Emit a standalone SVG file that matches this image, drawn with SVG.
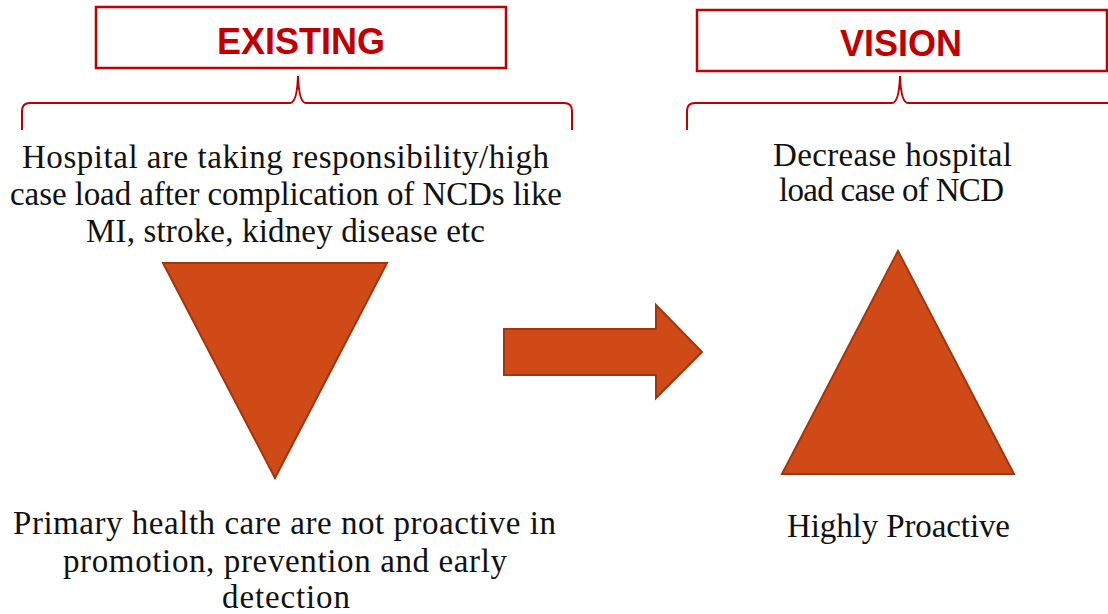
<svg xmlns="http://www.w3.org/2000/svg" width="1108" height="614" viewBox="0 0 1108 614">
<style>
.hdr{fill:#fff;stroke:#C00000;stroke-width:2.5}
.hdrt{font-family:"Liberation Sans",Arial,sans-serif;font-weight:bold;font-size:36px;fill:#C00000;text-anchor:middle}
.brace{fill:none;stroke:#C00000;stroke-width:2}
.shape{fill:#D04A18;stroke:#A1360E;stroke-width:2;stroke-linejoin:miter}
.t{font-family:"Liberation Serif","Times New Roman",serif;font-size:33px;fill:#111;text-anchor:middle}
</style>
<rect width="1108" height="614" fill="#fff"/>
<g id="existing-header">
<rect class="hdr" x="96" y="7" width="410" height="61"/>
<text class="hdrt" x="301" y="54">EXISTING</text>
</g>
<g id="vision-header">
<rect class="hdr" x="697" y="10" width="410" height="61"/>
<text class="hdrt" x="901" y="56">VISION</text>
</g>
<g id="braces">
<path class="brace" d="M22,130 L22,111 Q22,103 30,103 L290,103 Q297,103 298,76 Q299,103 306,103 L564,103 Q572,103 572,111 L572,130"/>
<path class="brace" d="M687,130 L687,111 Q687,103 695,103 L892,103 Q899,103 900,76 Q901,103 908,103 L1110,103"/>
</g>
<g id="existing-top-text">
<text class="t" x="285.5" y="168" textLength="527" lengthAdjust="spacing">Hospital are taking responsibility/high</text>
<text class="t" x="286" y="205" textLength="552" lengthAdjust="spacing">case load after complication of NCDs like</text>
<text class="t" x="285.5" y="242" textLength="399" lengthAdjust="spacing">MI, stroke, kidney disease etc</text>
</g>
<g id="inverted-triangle">
<polygon class="shape" points="163,263 387,263 275,478"/>
</g>
<g id="existing-bottom-text">
<text class="t" x="284.5" y="534" textLength="543" lengthAdjust="spacing">Primary health care are not proactive in</text>
<text class="t" x="285" y="572" textLength="444" lengthAdjust="spacing">promotion, prevention and early</text>
<text class="t" x="286" y="608" textLength="128" lengthAdjust="spacing">detection</text>
</g>
<g id="connectors">
<polygon class="shape" points="504,329 656,329 656,305 702,352 656,398 656,375 504,375"/>
</g>
<g id="vision-top-text">
<text class="t" x="892.5" y="166" textLength="239" lengthAdjust="spacing">Decrease hospital</text>
<text class="t" x="891.5" y="201" textLength="225" lengthAdjust="spacing">load case of NCD</text>
</g>
<g id="triangle">
<polygon class="shape" points="898,251 1014,474 782,474"/>
</g>
<g id="vision-bottom-text">
<text class="t" x="898.5" y="537" textLength="223" lengthAdjust="spacing">Highly Proactive</text>
</g>
</svg>
